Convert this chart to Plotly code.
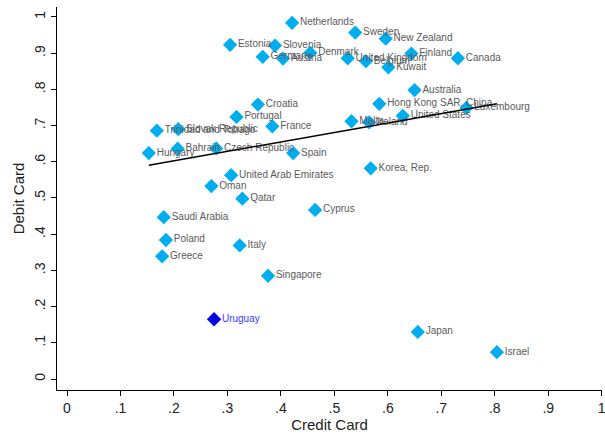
import numpy as np
import plotly.graph_objects as go

countries = [
    "Netherlands", "Sweden", "New Zealand", "Estonia", "Slovenia", "Germany",
    "Austria", "Denmark", "United Kingdom", "Belgium", "Kuwait", "Finland",
    "Canada", "Australia", "Hong Kong SAR, China", "Luxembourg", "United States",
    "Malta", "Ireland", "Croatia", "Portugal", "France", "Trinidad and Tobago",
    "Slovak Republic", "Hungary", "Bahrain", "Czech Republic", "Spain",
    "United Arab Emirates", "Oman", "Qatar", "Cyprus", "Korea, Rep.",
    "Saudi Arabia", "Poland", "Greece", "Italy", "Singapore", "Japan", "Israel",
]
credit = [
    0.421, 0.539, 0.596, 0.305, 0.389, 0.366,
    0.404, 0.455, 0.525, 0.559, 0.601, 0.644,
    0.731, 0.650, 0.584, 0.747, 0.628,
    0.532, 0.565, 0.357, 0.317, 0.384, 0.168,
    0.208, 0.153, 0.207, 0.279, 0.423,
    0.307, 0.270, 0.328, 0.464, 0.568,
    0.181, 0.185, 0.178, 0.323, 0.376, 0.656, 0.804,
]
debit = [
    0.984, 0.957, 0.940, 0.923, 0.921, 0.890,
    0.885, 0.901, 0.886, 0.878, 0.861, 0.899,
    0.886, 0.798, 0.760, 0.749, 0.727,
    0.712, 0.709, 0.758, 0.724, 0.698, 0.686,
    0.690, 0.624, 0.636, 0.637, 0.624,
    0.563, 0.533, 0.498, 0.467, 0.582,
    0.447, 0.384, 0.339, 0.369, 0.285, 0.130, 0.074,
]

highlight_name = ["Uruguay"]
highlight_credit = [0.275]
highlight_debit = [0.165]

tick_vals = [0, 0.1, 0.2, 0.3, 0.4, 0.5, 0.6, 0.7, 0.8, 0.9, 1]
tick_text = ["0", ".1", ".2", ".3", ".4", ".5", ".6", ".7", ".8", ".9", "1"]

# Linear fit over all countries, drawn across the observed credit range
all_x = np.array(credit + highlight_credit)
all_y = np.array(debit + highlight_debit)
slope, intercept = np.polyfit(all_x, all_y, 1)
fit_x = np.array([all_x.min(), all_x.max()])
fit_y = intercept + slope * fit_x

FONT = "Liberation Sans, Arial, sans-serif"

fig = go.Figure()

fig.add_trace(go.Scatter(
    x=credit, y=debit, mode="markers+text", text=countries,
    textposition="middle right",
    textfont=dict(family=FONT, size=10, color="#5a5a5a"),
    marker=dict(symbol="diamond", size=11, color="#00aeef"),
    showlegend=False, cliponaxis=False,
))
fig.add_trace(go.Scatter(
    x=highlight_credit, y=highlight_debit, mode="markers+text",
    text=highlight_name, textposition="middle right",
    textfont=dict(family=FONT, size=10, color="#3a3aff"),
    marker=dict(symbol="diamond", size=11, color="#0000e6"),
    showlegend=False, cliponaxis=False,
))
fig.add_trace(go.Scatter(
    x=fit_x, y=fit_y, mode="lines",
    line=dict(color="black", width=1.5),
    showlegend=False,
))

axis_common = dict(
    showgrid=False, zeroline=False, showline=True, linecolor="black",
    linewidth=1, ticks="outside", ticklen=5, tickcolor="black",
    tickvals=tick_vals, ticktext=tick_text,
    tickfont=dict(family=FONT, size=14, color="#222222"),
    ticklabeloverflow="allow", automargin=False, mirror=False,
)

fig.update_layout(
    width=605, height=437,
    margin=dict(l=57, r=3, t=7, b=47),
    paper_bgcolor="white", plot_bgcolor="white",
    xaxis=dict(range=[-0.0187, 1.0005], title=dict(text="Credit Card", standoff=2,
               font=dict(family=FONT, size=15, color="#222222")), **axis_common),
    yaxis=dict(range=[-0.0304, 1.0276], tickangle=-90,
               title=dict(text="Debit Card", standoff=4,
                          font=dict(family=FONT, size=15, color="#222222")),
               **axis_common),
)

fig.write_html("out.html")
